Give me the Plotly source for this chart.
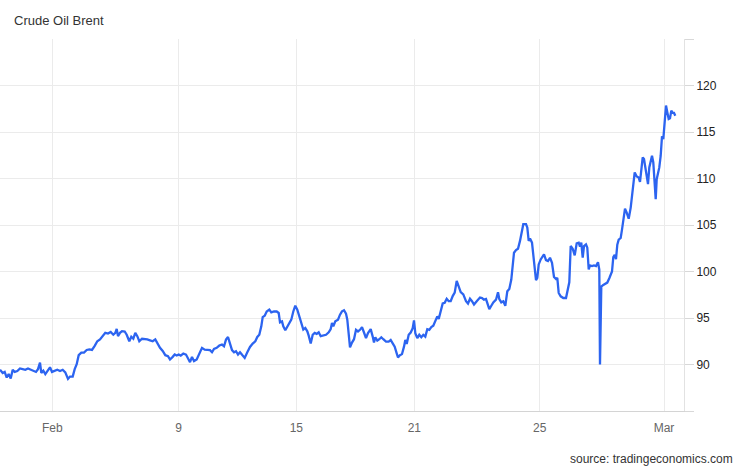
import plotly.graph_objects as go

# ---- data (session position along the time axis, Brent price) ----
t_a = [0, 2.7, 4.7, 6.7, 8.7, 10.7, 12.7, 14.7, 17.3, 20,
       22.7, 25.3, 28, 30.7, 33.3, 36, 38, 40, 41.3, 43.3,
       45.3, 47.3, 50, 52, 54.7, 57.3, 60, 62.7, 65.3, 68,
       70, 72.7, 74.7, 76.7, 78.7, 81.3, 84, 86.7, 89.3, 92,
       94.7, 97.3, 100, 102.7, 105.3, 108, 110.7, 113.3, 115.3, 116.7,
       118, 120, 122, 124.7, 126.7, 129.3, 131.3, 133.3, 135.3, 137.3,
       139.3, 142, 144.7, 147.3, 150, 152.7, 155.3, 157.3, 160, 162.7,
       165.3, 168]
p_a = [89.43, 89.08, 89.2, 88.6, 88.97, 88.5, 89.43, 89.2, 89.3, 89.57,
       89.5, 89.43, 89.57, 89.43, 89.36, 89.2, 89.5, 90.2, 89.1, 89.33,
       88.97, 89.3, 89.7, 89.2, 89.3, 89.43, 89.3, 89.43, 89.15, 88.45,
       88.7, 88.7, 89.5, 90.03, 91.0, 91.28, 91.28, 91.56, 91.63, 91.56,
       92.0, 92.5, 92.7, 93.1, 93.4, 93.33, 93.5, 93.2, 93.4, 93.83,
       93.05, 93.4, 93.58, 93.55, 93.2, 92.5, 92.98, 92.77, 93.4, 93.05,
       92.5, 92.77, 92.77, 92.7, 92.6, 92.5, 92.7, 92.3, 91.8, 91.45,
       91.0, 90.9]

t_b = [170, 172.7, 174.7, 176.7, 178.7, 180.7, 183.3, 186, 188, 190,
       192, 194, 196.7, 199.3, 202, 204.7, 207.3, 210, 212, 214,
       216.7, 219.3, 222, 224, 226, 228, 230, 232, 234, 236,
       238, 240, 242.7, 244.7, 247.3, 250, 252.7, 255.3, 257.3, 259.3,
       261.3, 262.7, 264.7, 266.7, 269.3, 271.3, 274, 276.7, 278.7, 280,
       282, 283.3, 285.3, 287.3, 289.3, 291.3, 293.3, 295.3, 297.3, 299.3,
       301.3, 303.3, 305.3, 307.3, 308.7, 310.7, 312.7, 314.7, 316.7, 318.7,
       320.7, 323.3, 326, 328.7, 330.7, 332, 333.3, 335.3, 338]
p_b = [90.54, 90.82, 91.07, 90.96, 91.07, 90.96, 91.18, 91.07, 90.71, 90.25,
       90.82, 90.36, 90.54, 91.07, 91.79, 91.6, 91.54, 91.54, 91.32, 91.68,
       91.79, 92.04, 92.14, 91.96, 92.68, 92.96, 92.25, 91.54, 91.32, 91.43,
       91.07, 91.32, 90.96, 90.71, 91.32, 91.89, 92.25, 92.5, 92.96, 93.2,
       94.1, 95.1, 95.25, 95.7, 95.9, 95.6, 95.7, 95.7, 95.54, 94.54,
       94.64, 94.1, 93.68, 94.1, 94.54, 94.82, 95.7, 96.32, 95.9, 95.1,
       94.29, 93.75, 93.93, 93.57, 93.1, 92.25, 93.2, 93.4, 93.3, 93.46,
       93.04, 93.1, 93.2, 93.46, 93.82, 94.46, 94.1, 94.64, 94.82]

t_c = [340, 342, 344, 346, 347.3, 348.7, 350, 352, 354, 356,
       358, 360, 362, 364, 366, 368, 370.7, 372.7, 374, 375.3,
       377.3, 379.3, 381.3, 383.3, 386, 388.7, 390.7, 392.7, 394.7, 396.7,
       398, 400, 402, 404, 405.3, 406.7, 408.7, 410.7, 412.7, 414,
       415.3, 417.3, 419.3, 421.3, 423.3, 425.3, 427.3, 429.3, 431.3, 433.3,
       435.3, 437.3, 438.7, 440.7, 442.7, 444.7, 446.7, 448.7, 450.7, 452.7,
       454.7, 456.7, 458.7, 460.7, 463.3, 466, 468, 470, 472, 474,
       476.7, 479.3]
p_c = [95.36, 95.72, 95.83, 95.47, 94.82, 93.37, 91.85, 92.36, 92.72, 93.73,
       93.55, 93.73, 94.02, 93.44, 92.83, 93.37, 93.8, 93.0, 92.36, 92.93,
       92.57, 92.72, 92.93, 92.72, 92.46, 92.46, 92.64, 92.28, 91.92, 91.2,
       90.76, 91.01, 91.12, 91.92, 92.64, 92.21, 93.19, 93.44, 93.91, 94.75,
       93.37, 92.83, 93.19, 92.93, 93.19, 93.0, 93.8, 93.73, 94.02, 94.17,
       94.64, 95.18, 94.89, 95.72, 96.56, 96.63, 97.07, 96.81, 96.81, 97.36,
       97.72, 98.99, 98.44, 97.79, 97.54, 96.81, 96.56, 97.07, 96.81, 96.45,
       96.81, 97.07]

t_d = [480, 482, 484, 486, 487.3, 489.3, 491.3, 493.3, 496, 498,
       499.3, 501.3, 503.3, 505.3, 507.3, 509.3, 511.3, 512.7, 514, 516,
       518, 520, 522, 523.3, 526, 527.3, 528.7, 530, 532, 534,
       536, 537.3, 538.7, 540.7, 542.7, 544, 546, 548, 550, 552,
       554, 556, 557.3, 558.7, 560.7, 563.3, 566, 568, 569.3, 570.7,
       572.7, 574.7, 576.7, 578.7, 580, 581.3, 582.7, 584, 586, 587.3,
       588.7, 590, 592, 594, 596, 598, 599.3, 600]
p_d = [97.2, 97.15, 96.97, 97.04, 96.6, 95.96, 96.32, 96.68, 96.97, 97.76,
       97.04, 96.68, 96.79, 96.32, 97.87, 98.12, 99.13, 100.58, 102.02, 102.31,
       102.45, 103.29, 104.19, 105.09, 105.09, 104.73, 103.29, 103.54, 103.1, 101.3,
       99.06, 99.31, 100.76, 101.3, 101.73, 101.84, 101.23, 101.12, 101.48, 100.94,
       99.42, 99.2, 99.31, 97.69, 97.33, 97.15, 97.15, 98.05, 98.84, 102.74,
       102.45, 101.73, 103.03, 103.1, 102.67, 103.1, 101.48, 102.74, 102.92, 102.56,
       100.22, 100.65, 100.58, 100.65, 100.58, 101.0, 100.2, 90.0]

t_e = [601.3, 603.3, 605.3, 607.3, 609.3, 610.7, 612, 613.3, 614.7, 616,
       617.3, 618.7, 620.7, 622, 623.3, 625, 626.7, 628.7, 630.7, 632.7,
       634.7, 636.7, 638.7, 640, 641.3, 642.7, 644, 645.3, 646.7, 648,
       649.3, 650.7, 652, 653.3, 654.7, 655.7, 656.7, 658, 659.3, 660.7,
       662, 663.3, 664.7, 666, 667.3, 668.7, 670, 671.3, 672.7, 674,
       675.3]
p_e = [98.38, 98.56, 98.67, 98.81, 99.28, 99.75, 100.0, 101.55, 101.8, 101.33,
       102.88, 103.42, 103.6, 104.5, 105.5, 106.76, 106.33, 105.68, 106.87, 108.67,
       110.65, 110.22, 110.1, 109.64, 111.0, 112.27, 112.09, 111.19, 110.47, 109.39,
       111.19, 112.09, 112.45, 111.73, 109.39, 107.77, 109.93, 110.65, 111.19, 112.45,
       114.53, 114.24, 115.86, 117.84, 117.12, 116.4, 116.47, 117.3, 117.05, 117.05,
       116.76]

x_tick_pos = [52.3, 178.7, 296.3, 414.3, 539.7, 664]
x_tick_labels = ["Feb", "9", "15", "21", "25", "Mar"]
y_tick_vals = [85, 90, 95, 100, 105, 110, 115, 120, 125]
y_tick_labels = ["", "90", "95", "100", "105", "110", "115", "120", ""]

for a, b in [(t_a, p_a), (t_b, p_b), (t_c, p_c), (t_d, p_d), (t_e, p_e)]:
    assert len(a) == len(b), (len(a), len(b))

t = t_a + t_b + t_c + t_d + t_e
price = p_a + p_b + p_c + p_d + p_e

fig = go.Figure()
fig.add_trace(go.Scatter(
    x=t, y=price, mode="lines",
    line=dict(color="#2c64f0", width=2.3),
    hoverinfo="skip", showlegend=False,
))

FONT = "Liberation Sans, Arial, sans-serif"

fig.update_layout(
    width=746, height=468,
    margin=dict(l=0, r=62, t=39, b=57),
    paper_bgcolor="white", plot_bgcolor="white",
    font=dict(family=FONT, size=12, color="#333"),
    title=dict(text="Crude Oil Brent", xref="container", yref="container",
               x=14 / 746, xanchor="left", y=1 - 20 / 468, yanchor="middle",
               font=dict(family=FONT, size=13, color="#333")),
    xaxis=dict(range=[0, 684], tickvals=x_tick_pos, ticktext=x_tick_labels,
               showgrid=True, gridcolor="#ebebeb", gridwidth=1,
               showline=True, linecolor="#d4d4d4", linewidth=1,
               ticks="", ticklabelstandoff=6, zeroline=False,
               tickfont=dict(family=FONT, size=12, color="#666")),
    yaxis=dict(side="right", range=[85, 125], tickvals=y_tick_vals,
               ticktext=y_tick_labels, showgrid=True, gridcolor="#ebebeb",
               gridwidth=1, showline=True, linecolor="#e2e2e2", linewidth=1,
               ticks="outside", ticklen=9, tickcolor="#d8d8d8", zeroline=False,
               tickfont=dict(family=FONT, size=12, color="#222")),
    annotations=[dict(text="source: tradingeconomics.com", xref="paper",
                      yref="paper", x=735 / 684, xanchor="right",
                      y=(9 - 57) / 372, yanchor="middle", showarrow=False,
                      font=dict(family=FONT, size=12, color="#333"))],
)

fig.write_html("out.html",
               config={"displayModeBar": False, "staticPlot": True},
               post_script="document.body.style.margin='0';"
                           "document.body.style.padding='0';")
